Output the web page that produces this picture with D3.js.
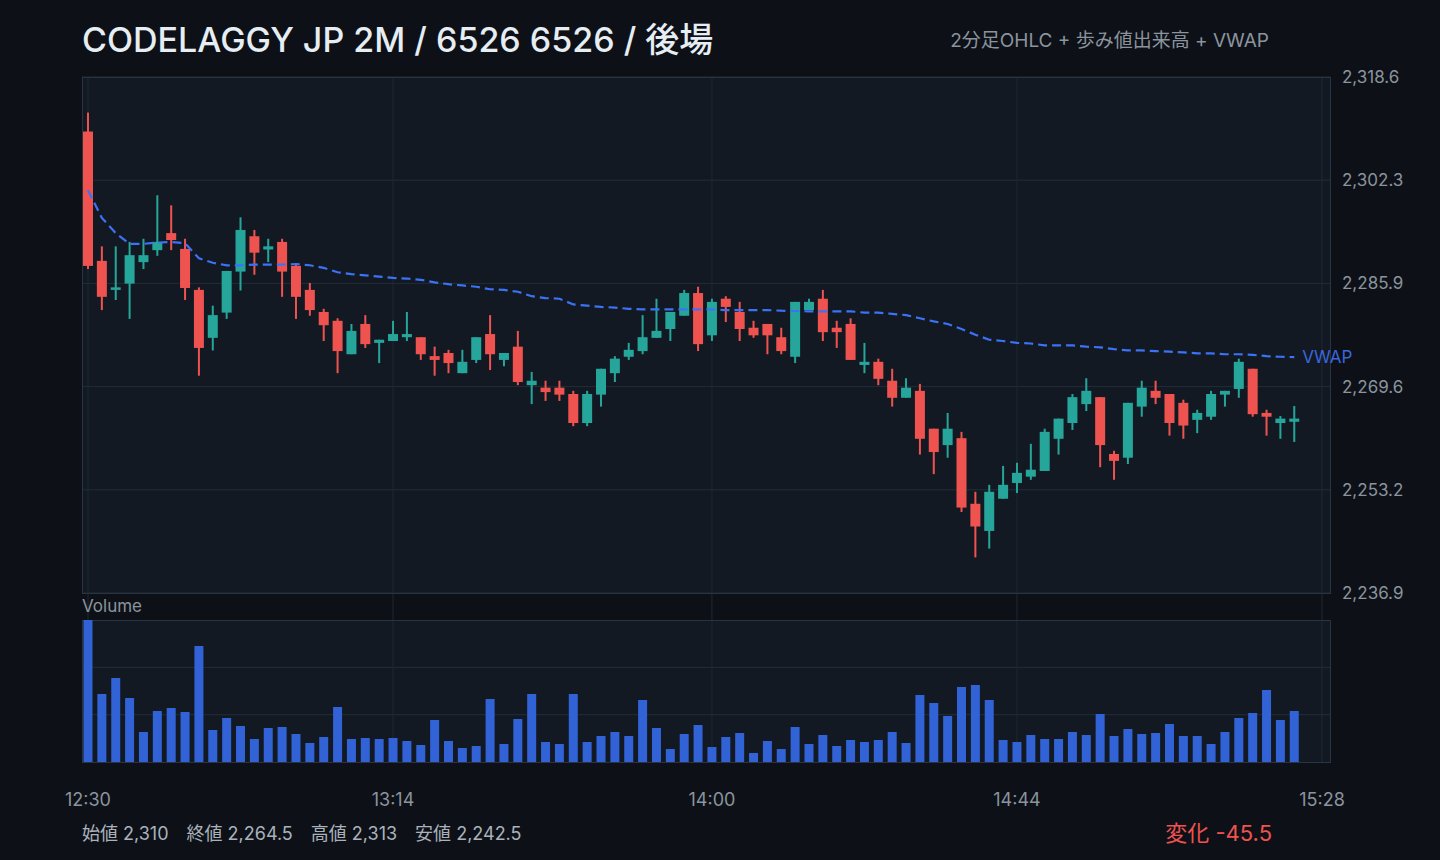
<!DOCTYPE html>
<html>
<head>
<meta charset="utf-8">
<script src="https://cdnjs.cloudflare.com/ajax/libs/d3/7.8.5/d3.min.js"></script>
<style>
  body { margin: 0; background: #0d1117; }
  svg { display: block; font-family: Inter, "Noto Sans CJK JP", sans-serif; }
</style>
</head>
<body>
<div class="root"></div>
<script>
// 2-min candles, 12:30 -> 15:24
var opens = [2310, 2289.5, 2284.9, 2285.9, 2289.3, 2291.2, 2293.9, 2291.4, 2284.9, 2277.3,
  2281.3, 2287.8, 2293.4, 2291.3, 2292.5, 2288.7, 2284.9, 2281.4, 2280.0, 2274.7,
  2279.5, 2276.5, 2276.8, 2277.4, 2277.4, 2274.4, 2274.9, 2271.7, 2273.8, 2277.9,
  2273.8, 2275.9, 2269.8, 2269.4, 2269.4, 2268.4, 2263.8, 2268.3, 2271.7, 2274.3,
  2275.2, 2277.3, 2278.7, 2280.8, 2284.4, 2277.7, 2283.5, 2281.4, 2278.9, 2279.5,
  2277.4, 2274.3, 2281.7, 2283.5, 2278.9, 2279.5, 2273.0, 2273.5, 2270.5, 2267.8,
  2268.9, 2262.9, 2260.3, 2261.4, 2251.0, 2246.7, 2251.8, 2254.3, 2255.3, 2256.2,
  2261.3, 2263.8, 2266.8, 2267.9, 2258.9, 2258.3, 2266.4, 2268.9, 2268.4, 2267.0,
  2264.3, 2264.8, 2268.3, 2269.2, 2272.4, 2265.4, 2263.8, 2264.0];
var highs = [2313, 2291.8, 2291.8, 2292.5, 2293.0, 2299.9, 2298.3, 2293.0, 2285.3, 2282.4,
  2287.9, 2296.4, 2294.4, 2293.0, 2293.0, 2288.9, 2286.0, 2281.9, 2280.4, 2279.5,
  2280.9, 2277.0, 2280.0, 2281.4, 2277.4, 2275.9, 2275.4, 2275.4, 2277.4, 2280.9,
  2274.9, 2278.4, 2271.9, 2270.5, 2270.5, 2268.9, 2268.9, 2272.4, 2274.4, 2276.5,
  2280.9, 2283.5, 2281.4, 2284.9, 2285.4, 2283.5, 2283.9, 2283.0, 2280.0, 2279.5,
  2278.9, 2283.0, 2283.5, 2284.9, 2280.0, 2280.4, 2276.5, 2274.0, 2272.4, 2270.9,
  2270.0, 2262.9, 2265.4, 2262.4, 2252.9, 2254.0, 2257.0, 2257.5, 2260.5, 2262.9,
  2264.5, 2268.4, 2270.9, 2267.9, 2259.4, 2267.0, 2270.5, 2270.5, 2268.4, 2267.5,
  2265.9, 2268.9, 2268.9, 2274.0, 2272.4, 2265.9, 2264.9, 2266.5];
var lows = [2288.2, 2281.7, 2283.3, 2280.3, 2288.2, 2290.3, 2291.2, 2283.3, 2271.3, 2275.3,
  2280.3, 2284.8, 2287.3, 2289.3, 2283.8, 2280.3, 2280.8, 2276.8, 2271.7, 2274.7,
  2275.7, 2273.3, 2276.8, 2276.8, 2273.8, 2271.3, 2271.7, 2271.7, 2273.3, 2272.2,
  2272.8, 2269.8, 2266.8, 2267.3, 2267.3, 2263.3, 2263.3, 2266.4, 2270.3, 2273.8,
  2274.7, 2277.3, 2276.8, 2280.8, 2275.2, 2276.8, 2279.8, 2276.8, 2277.3, 2274.7,
  2274.7, 2273.3, 2281.7, 2276.8, 2275.7, 2273.8, 2271.7, 2269.8, 2266.4, 2267.8,
  2258.8, 2255.7, 2258.3, 2249.7, 2242.5, 2243.9, 2251.8, 2252.7, 2254.8, 2256.2,
  2258.8, 2262.7, 2265.7, 2256.8, 2254.8, 2257.3, 2264.8, 2266.8, 2261.8, 2261.3,
  2262.2, 2264.3, 2266.4, 2267.8, 2264.8, 2261.8, 2261.3, 2260.8];
var closes = [2288.7, 2283.8, 2285.3, 2290.4, 2290.4, 2292.5, 2292.8, 2285.2, 2275.7, 2280.9,
  2287.9, 2294.4, 2290.8, 2291.8, 2287.8, 2283.8, 2281.7, 2279.3, 2275.2, 2278.4,
  2276.3, 2277.0, 2277.9, 2277.9, 2274.7, 2273.8, 2273.3, 2273.5, 2277.4, 2274.7,
  2274.9, 2270.3, 2270.5, 2268.7, 2268.3, 2263.8, 2268.4, 2272.4, 2274.0, 2275.4,
  2277.4, 2278.4, 2281.4, 2284.4, 2276.3, 2283.0, 2282.2, 2278.7, 2277.7, 2277.7,
  2275.2, 2283.0, 2283.0, 2278.2, 2278.2, 2273.8, 2273.5, 2270.8, 2267.8, 2269.4,
  2261.3, 2259.2, 2262.9, 2250.4, 2247.4, 2252.9, 2254.0, 2255.9, 2256.4, 2262.4,
  2264.5, 2267.9, 2268.9, 2260.3, 2257.8, 2267.0, 2269.4, 2267.8, 2263.8, 2263.4,
  2265.4, 2268.4, 2268.9, 2273.5, 2265.2, 2264.8, 2264.5, 2264.5];
var volumes = [14200, 6800, 8400, 6400, 3000, 5100, 5400, 5000, 11600, 3200,
  4400, 3600, 2300, 3400, 3500, 2800, 1900, 2500, 5500, 2300,
  2400, 2300, 2400, 2100, 1700, 4200, 2100, 1400, 1600, 6300,
  1800, 4300, 6800, 2000, 1800, 6800, 2000, 2600, 3000, 2600,
  6200, 3400, 1300, 2800, 3700, 1500, 2500, 2900, 900, 2100,
  1300, 3500, 1800, 2700, 1600, 2200, 2000, 2200, 3000, 1900,
  6700, 5900, 4600, 7500, 7700, 6200, 2200, 2000, 2700, 2300,
  2300, 3000, 2700, 4800, 2600, 3300, 2800, 2900, 3800, 2600,
  2600, 1800, 3000, 4400, 4900, 7200, 4200, 5100];
var vwap = [2300.7, 2296.3, 2293.9, 2292.2, 2292.2, 2292.4, 2292.5, 2292.3, 2289.9, 2289.2,
  2288.8, 2288.8, 2288.9, 2288.9, 2288.9, 2289.0, 2288.8, 2288.4, 2287.7, 2287.4,
  2287.2, 2287.0, 2286.8, 2286.7, 2286.5, 2286.1, 2285.8, 2285.6, 2285.4, 2285.0,
  2284.9, 2284.6, 2283.9, 2283.6, 2283.5, 2282.6, 2282.4, 2282.2, 2282.1, 2281.9,
  2281.8, 2281.8, 2281.8, 2281.8, 2281.8, 2281.8, 2281.7, 2281.7, 2281.7, 2281.7,
  2281.6, 2281.55, 2281.5, 2281.5, 2281.5, 2281.5, 2281.3, 2281.3, 2281.1, 2280.9,
  2280.4, 2279.9, 2279.5, 2278.7, 2277.8, 2277.0, 2276.8, 2276.5, 2276.4, 2276.1,
  2276.1, 2276.1, 2275.9, 2275.8, 2275.5, 2275.3, 2275.3, 2275.2, 2275.1, 2275.0,
  2274.85, 2274.85, 2274.7, 2274.7, 2274.6, 2274.4, 2274.3, 2274.25];
var timeTicks = ['12:30', '13:14', '14:00', '14:44', '15:28'];

var w = 1440, h = 860;
var left = 82, right = 1330;
var priceTop = 77, priceBottom = 593;
var volTop = 620, volBottom = 762;

var up = '#26a69a', down = '#ef5350';

var parseTime = d3.timeParse('%H:%M');
var t0 = parseTime(timeTicks[0]);
var candles = opens.map(function(o, i) {
  return { t: d3.timeMinute.offset(t0, 2 * i), o: o, h: highs[i], l: lows[i], c: closes[i], v: volumes[i], vwap: vwap[i] };
});

var x = d3.scaleTime()
  .domain([t0, parseTime(timeTicks[timeTicks.length - 1])])
  .range([88, 1322]);

var lo = d3.min(lows), hi = d3.max(highs);
var pad = (hi - lo) * 0.08;
var y = d3.scaleLinear()
  .domain([lo - pad, hi + pad])
  .range([priceBottom, priceTop]);
var yTicks = d3.range(6).map(function(k) { return y.domain()[0] + k * (y.domain()[1] - y.domain()[0]) / 5; });

var vy = d3.scaleLinear()
  .domain([0, d3.max(volumes)])
  .range([volBottom, volTop]);

var svg = d3.select('.root')
  .append('svg')
  .attr('width', w)
  .attr('height', h);

svg.append('rect').attr('width', w).attr('height', h).attr('fill', '#0d1117');

// panels
svg.append('rect')
  .attr('x', left).attr('y', priceTop)
  .attr('width', right - left).attr('height', priceBottom - priceTop)
  .attr('fill', '#121922');
svg.append('rect')
  .attr('x', left).attr('y', volTop)
  .attr('width', right - left).attr('height', volBottom - volTop)
  .attr('fill', '#121922');

// grid
svg.append('g').selectAll('line')
  .data(yTicks)
  .enter().append('line')
    .attr('x1', left).attr('x2', right)
    .attr('y1', function(d) { return y(d); })
    .attr('y2', function(d) { return y(d); })
    .attr('stroke', '#232d39');

svg.append('g').selectAll('line')
  .data([1, 2])
  .enter().append('line')
    .attr('x1', left).attr('x2', right)
    .attr('y1', function(d) { return vy(d3.max(volumes) * d / 3); })
    .attr('y2', function(d) { return vy(d3.max(volumes) * d / 3); })
    .attr('stroke', '#232d39');

svg.append('g').selectAll('line')
  .data(timeTicks)
  .enter().append('line')
    .attr('x1', function(d) { return x(parseTime(d)); })
    .attr('x2', function(d) { return x(parseTime(d)); })
    .attr('y1', priceTop).attr('y2', volBottom)
    .attr('stroke', '#1e2833');

// borders
[[priceTop, priceBottom], [volTop, volBottom]].forEach(function(p) {
  svg.append('rect')
    .attr('x', left + 0.5).attr('y', p[0] + 0.5)
    .attr('width', right - left).attr('height', p[1] - p[0])
    .attr('fill', 'none')
    .attr('stroke', '#2a3441');
});

// volume
svg.append('g').selectAll('rect')
  .data(candles)
  .enter().append('rect')
    .attr('x', function(d) { return x(d.t) - 4.5; })
    .attr('y', function(d) { return vy(d.v); })
    .attr('width', 9)
    .attr('height', function(d) { return volBottom - vy(d.v); })
    .attr('fill', '#3162d6');

// candles
var candle = svg.append('g').selectAll('g')
  .data(candles)
  .enter().append('g');

candle.append('rect')
  .attr('x', function(d) { return x(d.t) - 1; })
  .attr('y', function(d) { return y(d.h); })
  .attr('width', 2)
  .attr('height', function(d) { return Math.max(1, y(d.l) - y(d.h)); })
  .attr('fill', function(d) { return d.c >= d.o ? up : down; });

candle.append('rect')
  .attr('x', function(d) { return x(d.t) - 5; })
  .attr('y', function(d) { return y(Math.max(d.o, d.c)); })
  .attr('width', 10)
  .attr('height', function(d) { return Math.max(2, Math.abs(y(d.o) - y(d.c))); })
  .attr('fill', function(d) { return d.c >= d.o ? up : down; });

// vwap
var vwapLine = d3.line()
  .x(function(d) { return x(d.t); })
  .y(function(d) { return y(d.vwap); });

svg.append('path')
  .datum(candles)
  .attr('d', vwapLine)
  .attr('fill', 'none')
  .attr('stroke', '#3b72f6')
  .attr('stroke-width', 2.2)
  .attr('stroke-dasharray', '9,5');

var last = candles[candles.length - 1];
svg.append('text')
  .text('VWAP')
  .attr('x', x(last.t) + 8)
  .attr('y', y(last.vwap) + 6)
  .attr('fill', '#3a66de')
  .attr('font-size', 17);

// axes labels
svg.append('g').selectAll('text')
  .data(yTicks)
  .enter().append('text')
    .text(function(d) { return d3.format(',.1f')(d); })
    .attr('x', 1342)
    .attr('y', function(d) { return y(d) + 6; })
    .attr('fill', '#8b949e')
    .attr('font-size', 17);

svg.append('g').selectAll('text')
  .data(timeTicks)
  .enter().append('text')
    .text(function(d) { return d; })
    .attr('x', function(d) { return x(parseTime(d)); })
    .attr('y', 806)
    .attr('text-anchor', 'middle')
    .attr('fill', '#8b949e')
    .attr('font-size', 18);

svg.append('text')
  .text('Volume')
  .attr('x', left)
  .attr('y', 612)
  .attr('fill', '#8b949e')
  .attr('font-size', 17);

// titles
svg.append('text')
  .text('CODELAGGY JP 2M / 6526 6526 / 後場')
  .attr('x', left)
  .attr('y', 52)
  .attr('fill', '#e6edf3')
  .attr('font-size', 34)
  .attr('font-weight', 500);

svg.append('text')
  .text('2分足OHLC + 歩み値出来高 + VWAP')
  .attr('x', 1269)
  .attr('y', 47)
  .attr('text-anchor', 'end')
  .attr('fill', '#8b949e')
  .attr('font-size', 19);

var fmt = d3.format(',');
svg.append('text')
  .text('始値 ' + fmt(opens[0]) + '\u2003終値 ' + fmt(closes[closes.length - 1]) +
        '\u2003高値 ' + fmt(hi) + '\u2003安値 ' + fmt(lo))
  .attr('x', left)
  .attr('y', 840)
  .attr('fill', '#aab2bc')
  .attr('font-size', 18);

var change = closes[closes.length - 1] - opens[0];
svg.append('text')
  .text('変化 ' + d3.format('.1f')(change).replace('\u2212', '-'))
  .attr('x', 1272)
  .attr('y', 841)
  .attr('text-anchor', 'end')
  .attr('fill', change < 0 ? down : up)
  .attr('font-size', 22);
</script>
</body>
</html>
